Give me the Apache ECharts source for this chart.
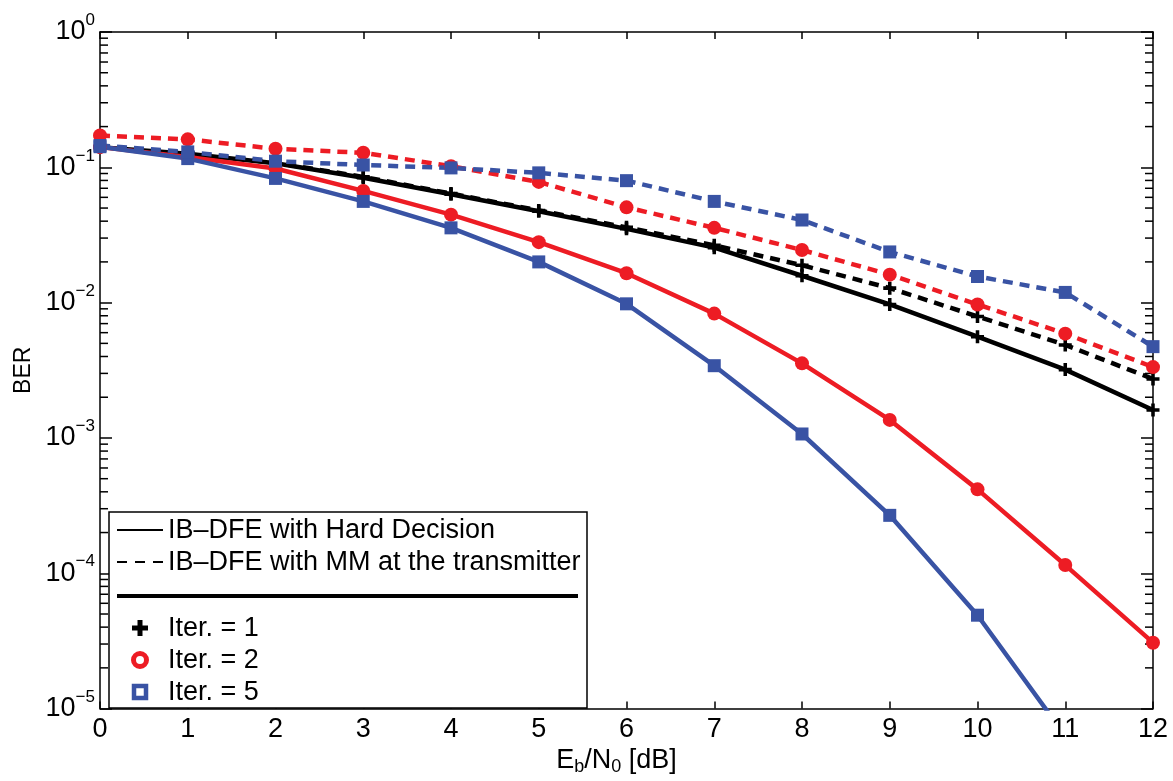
<!DOCTYPE html>
<html>
<head>
<meta charset="utf-8">
<script src="https://cdn.jsdelivr.net/npm/echarts@6/dist/echarts.min.js"></script>
<style>
html,body{margin:0;padding:0;background:#fff;}
#chart{width:1173px;height:781px;}
</style>
</head>
<body>
<div id="chart"></div>
<script>
// ---- data ----
const ebn0 = [0, 1, 2, 3, 4, 5, 6, 7, 8, 9, 10, 11, 12];
const hardIter1 = [0.141, 0.126, 0.107, 0.0838, 0.0633, 0.0473, 0.0351, 0.0255, 0.0158, 0.0097, 0.0056, 0.0032, 0.00161];
const mmIter1   = [0.142, 0.127, 0.108, 0.085, 0.064, 0.048, 0.036, 0.0265, 0.0189, 0.0128, 0.0079, 0.00487, 0.00273];
const hardIter2 = [0.141, 0.119, 0.098, 0.0669, 0.0447, 0.028, 0.0165, 0.0083, 0.00356, 0.00136, 0.000417, 0.000115, 0.0000307];
const mmIter2   = [0.172, 0.161, 0.137, 0.128, 0.102, 0.078, 0.0506, 0.0357, 0.0245, 0.0161, 0.0097, 0.0059, 0.00334];
const hardIter5 = [0.142, 0.116, 0.0828, 0.056, 0.0357, 0.020, 0.0098, 0.00342, 0.00107, 0.000268, 0.000049, 0.0000063];
const mmIter5   = [0.145, 0.13, 0.111, 0.104, 0.099, 0.091, 0.0797, 0.056, 0.0408, 0.0237, 0.0156, 0.0119, 0.00473];
const legendLines = ['IB\u2013DFE with Hard Decision', 'IB\u2013DFE with MM at the transmitter'];
const legendIters = ['Iter. = 1', 'Iter. = 2', 'Iter. = 5'];
const minorMultipliers = [2, 3, 4, 5, 6, 7, 8, 9];
const decades = [-5, -4, -3, -2, -1];

const RED = '#ED1C24', BLUE = '#3953A4', BLACK = '#000';
const FONT = 'Liberation Sans, Arial, Helvetica, sans-serif';
const PLUS = 'path://M4,0H7V4H11V7H7V11H4V7H0V4H4Z';

function pairs(vals) { return vals.map((v, i) => [ebn0[i], v]); }

const minorVals = [];
decades.forEach(e => minorMultipliers.forEach(m => minorVals.push([0, m * Math.pow(10, e)])));

function lineSeries(name, vals, color, dashed, symbol, size) {
  return {
    name: name, type: 'line', data: pairs(vals),
    symbol: symbol, symbolSize: size, showSymbol: true,
    lineStyle: { color: color, width: 4.5, type: dashed ? [10, 7] : 'solid' },
    itemStyle: { color: color, borderWidth: 0 },
    clip: true, animation: false, z: 3
  };
}

const chart = echarts.init(document.getElementById('chart'), null, { renderer: 'canvas' });

const supLabel = v => {
  const e = Math.round(Math.log10(v));
  return '{b|10}{s|' + (e < 0 ? '\u2212' + (-e) : e) + '}';
};

const option = {
  backgroundColor: '#fff',
  animation: false,
  grid: { left: 100, right: 20, top: 32, bottom: 65, containLabel: false },
  xAxis: [{
    type: 'value', min: 0, max: 12, interval: 1, position: 'bottom',
    axisLine: { show: true, onZero: false, lineStyle: { color: '#000', width: 1.5 } },
    axisTick: { show: true, inside: true, length: 7, lineStyle: { color: '#000', width: 1.5 } },
    axisLabel: { color: '#000', fontSize: 27, fontFamily: FONT, margin: 7 },
    splitLine: { show: false },
    name: '{n|E}{sub|b}{n|/N}{sub|0}{n| [dB]}',
    nameLocation: 'middle', nameGap: 37,
    nameTextStyle: {
      padding: [0, 20, 0, 0],
      rich: {
        n: { fontSize: 27, fontFamily: FONT, color: '#000', lineHeight: 30 },
        sub: { fontSize: 18, fontFamily: FONT, color: '#000', verticalAlign: 'bottom', lineHeight: 17 }
      }
    }
  }, {
    type: 'value', min: 0, max: 12, interval: 1, position: 'top',
    axisLine: { show: true, onZero: false, lineStyle: { color: '#000', width: 1.5 } },
    axisTick: { show: true, inside: true, length: 7, lineStyle: { color: '#000', width: 1.5 } },
    axisLabel: { show: false }, splitLine: { show: false }
  }],
  yAxis: [{
    type: 'log', logBase: 10, min: 1e-5, max: 1, position: 'left',
    axisLine: { show: true, onZero: false, lineStyle: { color: '#000', width: 1.5 } },
    axisTick: { show: true, inside: true, length: 12, lineStyle: { color: '#000', width: 1.5 } },
    axisLabel: {
      margin: 5, formatter: supLabel,
      rich: {
        b: { fontSize: 27, fontFamily: FONT, color: '#000', lineHeight: 40 },
        s: { fontSize: 17, fontFamily: FONT, color: '#000', verticalAlign: 'top', lineHeight: 16 }
      }
    },
    splitLine: { show: false },
    name: 'BER', nameLocation: 'middle', nameGap: 64,
    nameTextStyle: { fontSize: 23, fontFamily: FONT, color: '#000' }
  }, {
    type: 'log', logBase: 10, min: 1e-5, max: 1, position: 'right',
    axisLine: { show: true, onZero: false, lineStyle: { color: '#000', width: 1.5 } },
    axisTick: { show: true, inside: true, length: 12, lineStyle: { color: '#000', width: 1.5 } },
    axisLabel: { show: false }, splitLine: { show: false }
  }],
  series: [
    {
      type: 'custom', name: 'minorTicks', data: minorVals, silent: true, z: 1,
      xAxisIndex: 0, yAxisIndex: 0, clip: false,
      renderItem: function (params, api) {
        const v = api.value(1);
        const pL = api.coord([0, v]);
        const pR = api.coord([12, v]);
        const st = { stroke: '#000', lineWidth: 1.5 };
        return {
          type: 'group', children: [
            { type: 'line', shape: { x1: pL[0], y1: pL[1], x2: pL[0] + 8, y2: pL[1] }, style: st },
            { type: 'line', shape: { x1: pR[0], y1: pR[1], x2: pR[0] - 8, y2: pR[1] }, style: st }
          ]
        };
      }
    },
    lineSeries('Hard Iter 1', hardIter1, BLACK, false, PLUS, 13),
    lineSeries('MM Iter 1', mmIter1, BLACK, true, PLUS, 13),
    lineSeries('Hard Iter 2', hardIter2, RED, false, 'circle', 14),
    lineSeries('MM Iter 2', mmIter2, RED, true, 'circle', 14),
    lineSeries('Hard Iter 5', hardIter5, BLUE, false, 'rect', 13),
    lineSeries('MM Iter 5', mmIter5, BLUE, true, 'rect', 13)
  ],
  graphic: [
    { type: 'rect', z: 100, shape: { x: 109, y: 512, width: 478, height: 196 }, style: { fill: '#fff', stroke: '#000', lineWidth: 1.5 } },
    { type: 'line', z: 101, shape: { x1: 117, y1: 530, x2: 163, y2: 530 }, style: { stroke: '#000', lineWidth: 2 } },
    { type: 'line', z: 101, shape: { x1: 117, y1: 562, x2: 163, y2: 562 }, style: { stroke: '#000', lineWidth: 2, lineDash: [10, 8] } },
    { type: 'text', z: 101, style: { x: 168, y: 531, text: legendLines[0], font: '27px ' + FONT, fill: '#000', textVerticalAlign: 'middle' } },
    { type: 'text', z: 101, style: { x: 168, y: 563, text: legendLines[1], font: '27px ' + FONT, fill: '#000', textVerticalAlign: 'middle' } },
    { type: 'line', z: 101, shape: { x1: 117, y1: 596, x2: 578, y2: 596 }, style: { stroke: '#000', lineWidth: 4 } },
    { type: 'rect', z: 101, shape: { x: 132, y: 625.5, width: 16, height: 5 }, style: { fill: '#000' } },
    { type: 'rect', z: 101, shape: { x: 137.5, y: 620, width: 5, height: 16 }, style: { fill: '#000' } },
    { type: 'circle', z: 101, shape: { cx: 140, cy: 660, r: 6.5 }, style: { fill: '#fff', stroke: RED, lineWidth: 5 } },
    { type: 'rect', z: 101, shape: { x: 134, y: 686, width: 12, height: 12 }, style: { fill: '#fff', stroke: BLUE, lineWidth: 4.5 } },
    { type: 'text', z: 101, style: { x: 168, y: 629, text: legendIters[0], font: '27px ' + FONT, fill: '#000', textVerticalAlign: 'middle' } },
    { type: 'text', z: 101, style: { x: 168, y: 661, text: legendIters[1], font: '27px ' + FONT, fill: '#000', textVerticalAlign: 'middle' } },
    { type: 'text', z: 101, style: { x: 168, y: 693, text: legendIters[2], font: '27px ' + FONT, fill: '#000', textVerticalAlign: 'middle' } }
  ]
};
chart.setOption(option);
</script>
</body>
</html>
